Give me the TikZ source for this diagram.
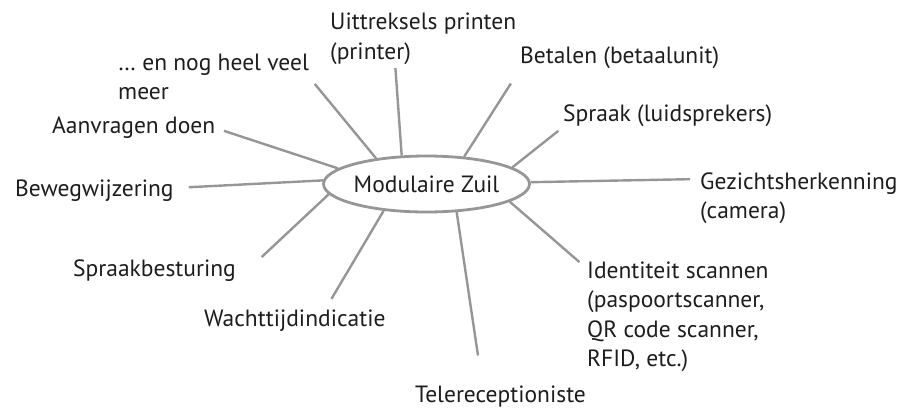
\documentclass[tikz,border=0pt]{standalone}
\usepackage{fontspec}
\setmainfont{PT Sans}
\usetikzlibrary{shapes.geometric}
\definecolor{spokegray}{RGB}{150,150,152}
\definecolor{inkgray}{RGB}{30,28,29}

\begin{document}
\begin{tikzpicture}[x=1pt,y=-1pt,
    every node/.style={font=\fontsize{23.5}{29.5}\selectfont,text=inkgray},
    hub/.style={draw=spokegray,line width=2.8pt,ellipse,minimum width=201,minimum height=56,inner sep=0pt,fill=white},
    item/.style={anchor=west,align=left,inner sep=0pt},
    spoke/.style={draw=spokegray,line width=2.4pt}]
      \useasboundingbox (0,0) rectangle (901,408);

      \node[hub] (zuil) at (426.5,184) {Modulaire Zuil};

      \node[item] (meer) at (118,77) {\dots\ en nog heel veel\\meer};
      \node[item] (uitt) at (330,39) {Uittreksels printen\\(printer)};
      \node[item] (betalen) at (520,58) {Betalen (betaalunit)};
      \node[item] (spraak) at (563,116) {Spraak (luidsprekers)};
      \node[item] (gezicht) at (700,198) {Gezichtsherkenning\\(camera)};
      \node[item] (ident) at (587,317) {Identiteit scannen\\(paspoortscanner,\\QR code scanner,\\RFID, etc.)};
      \node[item] (tele) at (415,397) {Telereceptioniste};
      \node[item] (wacht) at (204,321) {Wachttijdindicatie};
      \node[item] (besturing) at (73,271) {Spraakbesturing};
      \node[item] (beweg) at (15,191) {Bewegwijzering};
      \node[item] (aanvragen) at (52,128) {Aanvragen doen};

      \draw[spoke,shorten >=9pt] (zuil.153) -- (meer.east);
      \draw[spoke,shorten >=3pt] (zuil.131) -- ([xshift=-28pt]uitt.south);
      \draw[spoke,shorten >=17pt] (zuil.36) -- (betalen.south west);
      \draw[spoke,shorten >=6pt] (zuil.11) -- (spraak.south west);
      \draw[spoke,shorten >=10pt] (zuil.1) -- ([yshift=19pt]gezicht.west);
      \draw[spoke,shorten >=10pt] (zuil.-12) -- ([yshift=-7pt]ident.north west);
      \draw[spoke,shorten >=31pt] (zuil.-43) -- ([xshift=-18pt]tele.north);
      \draw[spoke,shorten >=13pt] (zuil.212) -- ([xshift=30pt]wacht.north);
      \draw[spoke,shorten >=35pt] (zuil.186) -- ([yshift=-10pt]besturing.east);
      \draw[spoke,shorten >=15pt] (zuil.178) -- ([yshift=3pt]beweg.east);
      \draw[spoke,shorten >=9pt] (zuil.170) -- (aanvragen.east);
    \end{tikzpicture}
\end{document}
